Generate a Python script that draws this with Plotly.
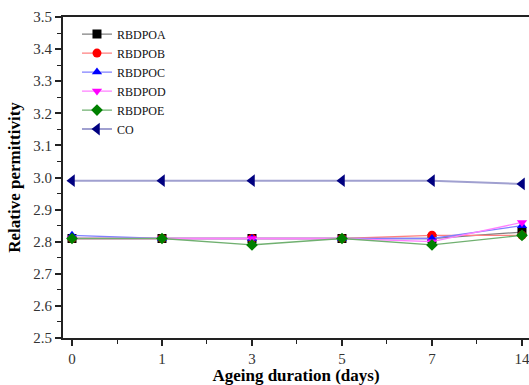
import plotly.graph_objects as go

days = ["0", "1", "3", "5", "7", "14"]

rbdpoa = [2.81, 2.81, 2.81, 2.81, 2.81, 2.83]
rbdpob = [2.81, 2.81, 2.81, 2.81, 2.82, 2.82]
rbdpoc = [2.82, 2.81, 2.81, 2.81, 2.81, 2.85]
rbdpod = [2.81, 2.81, 2.81, 2.81, 2.80, 2.86]
rbdpoe = [2.81, 2.81, 2.79, 2.81, 2.79, 2.82]
co = [2.99, 2.99, 2.99, 2.99, 2.99, 2.98]

y_ticks = [2.5, 2.6, 2.7, 2.8, 2.9, 3.0, 3.1, 3.2, 3.3, 3.4, 3.5]

xpos = list(range(len(days)))
font = "Times New Roman, Liberation Serif, DejaVu Serif, serif"

series = [
    ("RBDPOA", rbdpoa, "#000000", "#808080", "square"),
    ("RBDPOB", rbdpob, "#ff0000", "#ff8080", "circle"),
    ("RBDPOC", rbdpoc, "#0000ff", "#8080ff", "triangle-up"),
    ("RBDPOD", rbdpod, "#ff00ff", "#ff80ff", "triangle-down"),
    ("RBDPOE", rbdpoe, "#008000", "#70b070", "diamond"),
    ("CO", co, "#000080", "#a0a0d0", "triangle-left"),
]

fig = go.Figure()
for name, vals, mcol, lcol, sym in series:
    fig.add_trace(go.Scatter(
        x=xpos, y=vals, name=name, mode="lines+markers",
        line=dict(color=lcol, width=1.3 if name != "CO" else 2),
        marker=dict(color=mcol, symbol=sym, size=9 if name != "CO" else 11),
    ))

fig.update_layout(
    width=529, height=385,
    margin=dict(l=63, r=0, t=17, b=47),
    paper_bgcolor="white", plot_bgcolor="white",
    font=dict(family=font, size=14, color="#222"),
    showlegend=True,
    legend=dict(
        x=0.03, y=0.992, xanchor="left", yanchor="top",
        bgcolor="rgba(0,0,0,0)", font=dict(family=font, size=12, color="#111"),
        tracegroupgap=0, itemwidth=30,
    ),
    xaxis=dict(
        range=[-0.1, 5.078], tickvals=xpos, ticktext=days,
        showgrid=False, zeroline=False,
        showline=True, linecolor="#222", linewidth=1.5, mirror=True,
        ticks="outside", ticklen=6, tickcolor="#222", tickwidth=1.5,
        ticklabeloverflow="allow",
        minor=dict(tick0=0.5, dtick=1, ticks="outside", ticklen=4,
                   tickcolor="#222", tickwidth=1.2),
        title=dict(text="<b>Ageing duration (days)</b>", standoff=5,
                   font=dict(family=font, size=17, color="#000")),
        tickfont=dict(family=font, size=15, color="#333"),
    ),
    yaxis=dict(
        range=[2.5, 3.5], tickvals=y_ticks,
        ticktext=[f"{v:.1f}" for v in y_ticks],
        showgrid=False, zeroline=False,
        showline=True, linecolor="#222", linewidth=2, mirror=False,
        ticks="outside", ticklen=6, tickcolor="#222", tickwidth=1.5,
        minor=dict(tick0=2.55, dtick=0.1, ticks="outside", ticklen=4,
                   tickcolor="#222", tickwidth=1.2),
        title=dict(text="<b>Relative permittivity</b>", standoff=8,
                   font=dict(family=font, size=17, color="#000")),
        tickfont=dict(family=font, size=15, color="#333"),
    ),
)

fig.write_html("out.html")
